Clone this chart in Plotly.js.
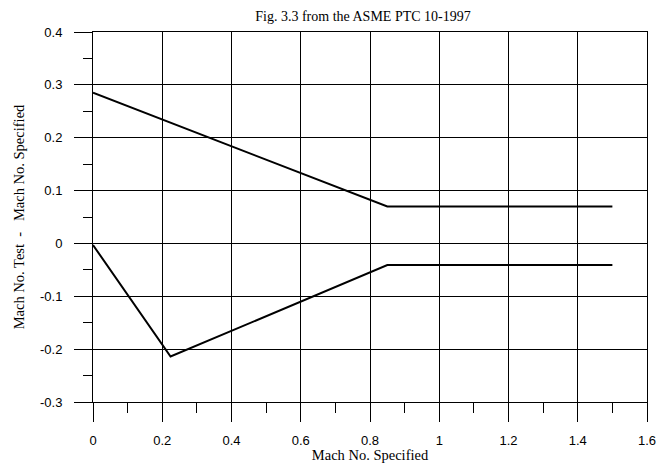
<!DOCTYPE html>
<html>
<head>
<meta charset="utf-8">
<script src="https://cdn.plot.ly/plotly-3.0.1.min.js"></script>
<style>html,body{margin:0;padding:0;background:#fff;}#chart{width:665px;height:463px;}</style>
</head>
<body>
<div id="chart"></div>
<script>
// Upper limit curve
const upperX = [0, 0.85, 1.5];
const upperY = [0.285, 0.07, 0.07];
// Lower limit curve
const lowerX = [0, 0.224, 0.85, 1.5];
const lowerY = [-0.003, -0.214, -0.041, -0.041];

const xTickVals = [0, 0.2, 0.4, 0.6, 0.8, 1, 1.2, 1.4, 1.6];
const xTickText = ['0', '0.2', '0.4', '0.6', '0.8', '1', '1.2', '1.4', '1.6'];
const yTickVals = [-0.3, -0.2, -0.1, 0, 0.1, 0.2, 0.3, 0.4];
const yTickText = ['-0.3', '-0.2', '-0.1', '0', '0.1', '0.2', '0.3', '0.4'];

const lineStyle = {color: '#000', width: 2};
const traces = [
  {x: upperX, y: upperY, mode: 'lines', line: lineStyle, name: 'Upper', showlegend: false, hoverinfo: 'x+y'},
  {x: lowerX, y: lowerY, mode: 'lines', line: lineStyle, name: 'Lower', showlegend: false, hoverinfo: 'x+y'}
];

const serif = 'Liberation Serif, Times New Roman, serif';
const sans = 'Liberation Sans, Arial, sans-serif';
const nb = '\u00a0';

const layout = {
  width: 665, height: 463,
  margin: {l: 93, r: 18, t: 32, b: 61, pad: 0},
  paper_bgcolor: '#fff', plot_bgcolor: '#fff',
  showlegend: false,
  title: {
    text: 'Fig. 3.3 from the ASME PTC 10-1997',
    font: {family: serif, size: 14, color: '#000'},
    x: 363/665, xref: 'container', xanchor: 'center',
    y: 1 - 16/463, yref: 'container', yanchor: 'middle'
  },
  xaxis: {
    range: [0, 1.6], fixedrange: true,
    tickmode: 'array', tickvals: xTickVals, ticktext: xTickText,
    ticks: 'outside', ticklen: 19, tickwidth: 1, tickcolor: '#000',
    ticklabelstandoff: 7,
    minor: {dtick: 0.1, tick0: 0, ticks: 'outside', ticklen: 10, tickwidth: 1, tickcolor: '#000', showgrid: false},
    showgrid: true, gridcolor: '#000', gridwidth: 1,
    zeroline: false,
    showline: true, linecolor: '#000', linewidth: 1, mirror: true,
    tickfont: {family: sans, size: 13, color: '#000'},
    title: {text: 'Mach No. Specified' + nb + nb, font: {family: serif, size: 14.5, color: '#000'}, standoff: 6}
  },
  yaxis: {
    range: [-0.3, 0.4], fixedrange: true,
    tickmode: 'array', tickvals: yTickVals, ticktext: yTickText,
    ticks: 'outside', ticklen: 18, tickwidth: 1, tickcolor: '#000',
    ticklabelstandoff: 9,
    minor: {dtick: 0.05, tick0: 0, ticks: 'outside', ticklen: 9, tickwidth: 1, tickcolor: '#000', showgrid: false},
    showgrid: true, gridcolor: '#000', gridwidth: 1,
    zeroline: false,
    showline: true, linecolor: '#000', linewidth: 1, mirror: true,
    tickfont: {family: sans, size: 13, color: '#000'},
    title: {text: nb + nb + nb + 'Mach No. Test' + nb + nb + '-' + nb + nb + nb + 'Mach No. Specified', font: {family: serif, size: 14.5, color: '#000'}, standoff: 11}
  }
};

Plotly.newPlot('chart', traces, layout, {displayModeBar: false, staticPlot: true});
</script>
</body>
</html>
